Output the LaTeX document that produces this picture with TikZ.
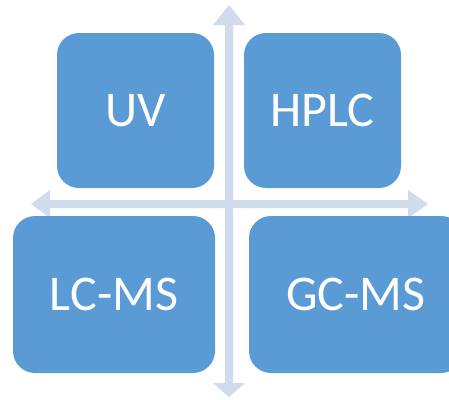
\documentclass[tikz,border=0pt]{standalone}
\usepackage{fontspec}
\setmainfont{Carlito}
\definecolor{boxblue}{HTML}{5B9BD5}
\definecolor{arrowblue}{HTML}{D0DBEE}
\tikzset{
  box/.style={rectangle, rounded corners=22pt, fill=boxblue, draw=none, text=white,
    inner sep=0pt, font=\fontsize{50}{60}\selectfont},
  axisarrow/.style={fill=arrowblue, draw=none}
}
\begin{document}
\begin{tikzpicture}[x=1pt,y=-1pt]
\useasboundingbox (0,0) rectangle (449,399);
\begin{scope}
\clip (0,0) rectangle (449,399);
% vertical double arrow
\coordinate (vtop) at (229,5);
\coordinate (vbot) at (229,397);
\fill[axisarrow] (vtop) -- (245,25) -- (233,25) -- (233,383) -- (245,383) -- (vbot)
  -- (213,383) -- (225,383) -- (225,25) -- (213,25) -- cycle;
% horizontal double arrow
\coordinate (hleft) at (31,204);
\coordinate (hright) at (428,204);
\fill[axisarrow] (hleft) -- (50,190) -- (50,200) -- (408,200) -- (408,190) -- (hright)
  -- (408,218) -- (408,208) -- (50,208) -- (50,218) -- cycle;
% boxes
\node[box, minimum width=157pt, minimum height=155pt] (uv) at (135.5,110.5) {UV};
\node[box, minimum width=157pt, minimum height=155pt] (hplc) at (322.5,110.5) {HPLC};
\node[box, minimum width=202pt, minimum height=157pt] (lcms) at (114,294.5) {LC-MS};
\node[box, minimum width=214pt, minimum height=157pt] (gcms) at (356,294.5) {GC-MS};
\end{scope}
\end{tikzpicture}
\end{document}
